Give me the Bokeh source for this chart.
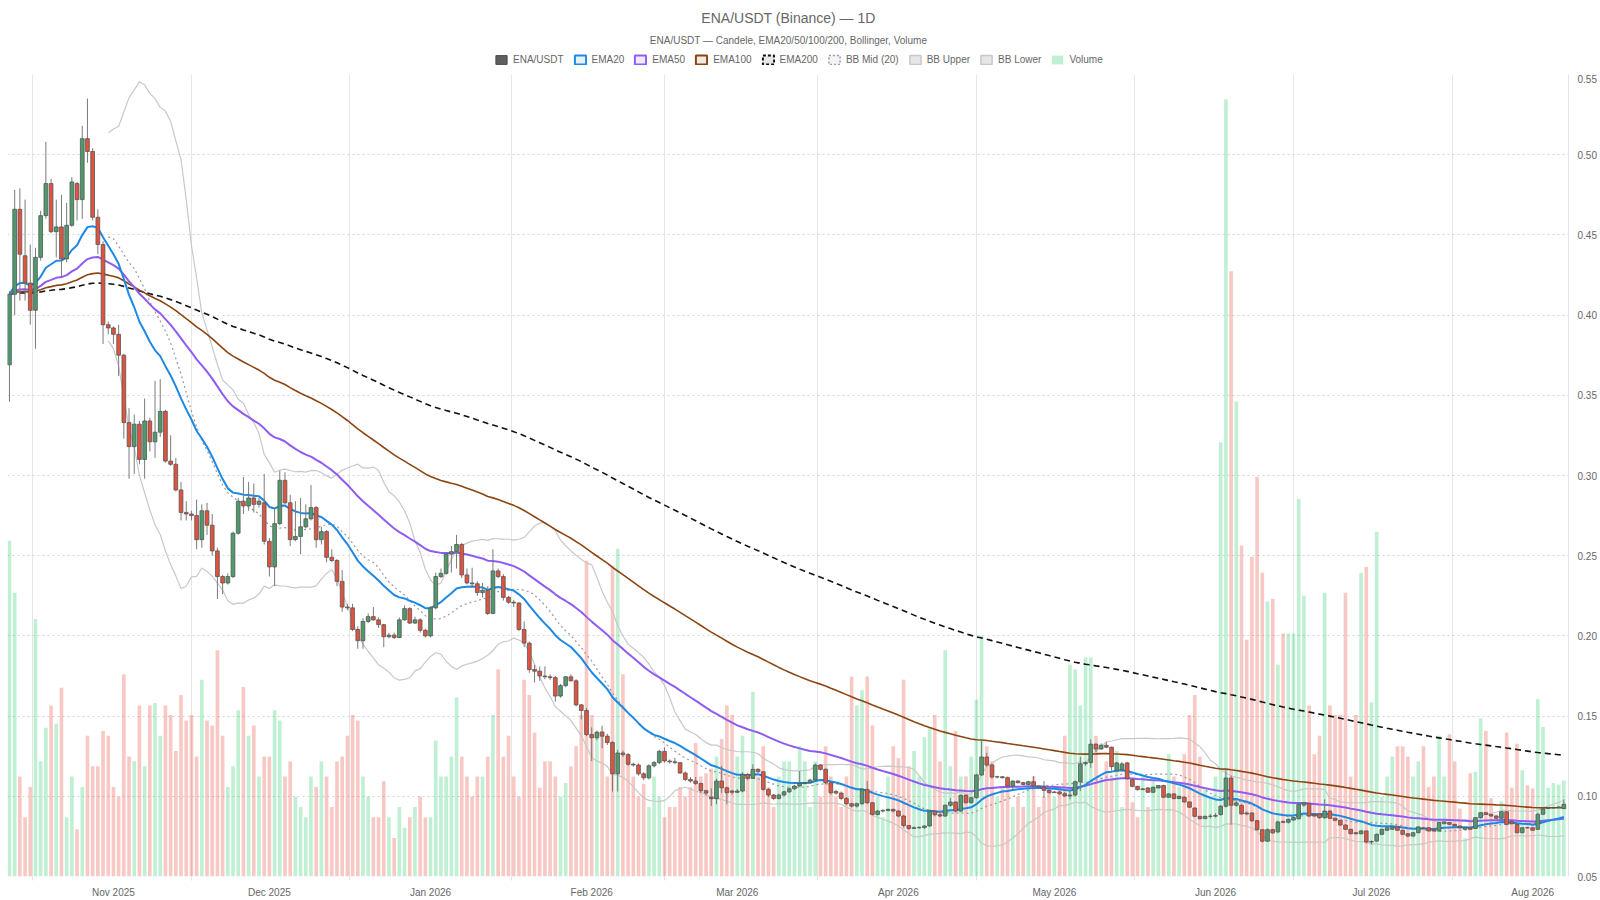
import numpy as np
import pandas as pd
from bokeh.plotting import figure
from bokeh.layouts import column
from bokeh.core.properties import value
from bokeh.models import (ColumnDataSource, Range1d, FixedTicker, Legend, LegendItem,
                          PrintfTickFormatter, DatetimeTickFormatter)
from bokeh.embed import file_html
from bokeh.resources import INLINE

# ---------------- data ----------------
start_date = "2025-10-12"
n_days = 300

opens = [
    .369, .413, .466, .437, .420, .403, .436, .462, .482, .452,
    .455, .435, .456, .482, .472, .510, .502, .461, .444, .394,
    .392, .388, .375, .333, .318, .332, .310, .334, .321, .327,
    .340, .309, .307, .291, .277, .276, .275, .260, .278, .269,
    .253, .237, .233, .237, .264, .284, .281, .286, .282, .283,
    .259, .243, .270, .297, .283, .260, .262, .268, .273, .280,
    .260, .265, .249, .247, .234, .218, .2175, .204, .197, .209,
    .212, .210, .207, .1995, .2005, .199, .210, .217, .208, .210,
    .2035, .200, .2175, .237, .239, .251, .2525, .257, .238, .233,
    .2325, .227, .2285, .214, .2405, .237, .224, .221, .2205, .204,
    .1955, .179, .178, .175, .1745, .174, .1625, .169, .1745, .172,
    .157, .1535, .1385, .1365, .140, .1375, .1335, .114, .127, .126,
    .120, .1195, .114, .1115, .119, .121, .128, .122, .1215, .121,
    .1145, .1105, .1095, .108, .1035, .0995, .0985, .1095, .1053, .1033,
    .1025, .1033, .1136, .1112, .1168, .1153, .1043, .1008, .0987, .1008,
    .1028, .1047, .1064, .1080, .1085, .1101, .1195, .1168, .1085, .1030,
    .1020, .0987, .0954, .0939, .0954, .1043, .0960, .0887, .0908, .0912,
    .0918, .0908, .0877, .0818, .0800, .0804, .0806, .0815, .0908, .0885,
    .0877, .0944, .0964, .0908, .1006, .0960, .0991, .1133, .1245, .1195,
    .1120, .1122, .1116, .1064, .1095, .1085, .1074, .1091, .1064, .1058,
    .1037, .1023, .1027, .1016, .1002, .1008, .1091, .1203, .1210, .1325,
    .1295, .1318, .1306, .1160, .1165, .1208, .1104, .1062, .1042, .1052,
    .1025, .1052, .1067, .0994, .1015, .0986, .0994, .0965, .0927, .0875,
    .0861, .0875, .0876, .0886, .0938, .1114, .0944, .0944, .0896, .0896,
    .0848, .0792, .0720, .0792, .0778, .0842, .0838, .0852, .0860, .0945,
    .0956, .0887, .0890, .0867, .0908, .0863, .0850, .0821, .0794, .0773,
    .0767, .0784, .0715, .0721, .0763, .0788, .0794, .0809, .0788, .0767,
    .0752, .0773, .0802, .0804, .0794, .0784, .0829, .0836, .0825, .0815,
    .0794, .0804, .0800, .0867, .0898, .0887, .0877, .0863, .0904, .0842,
    .0825, .0773, .0804, .0804, .0794, .0888, .0925, .0928, .0930, .0923,
]

highs = [
    .415, .478, .479, .472, .444, .442, .465, .508, .485, .472,
    .475, .470, .486, .483, .518, .535, .504, .466, .446, .396,
    .393, .394, .376, .342, .338, .334, .348, .336, .359, .360,
    .341, .325, .311, .296, .284, .278, .285, .282, .283, .276,
    .255, .238, .239, .265, .286, .299, .296, .295, .286, .301,
    .261, .280, .303, .302, .288, .284, .286, .282, .294, .281,
    .268, .266, .254, .248, .241, .220, .220, .206, .211, .214,
    .218, .2115, .2075, .202, .202, .2115, .219, .218, .212, .211,
    .2045, .2185, .2395, .242, .252, .256, .263, .258, .242, .2425,
    .234, .233, .231, .254, .242, .2385, .225, .2225, .221, .209,
    .1965, .182, .181, .181, .176, .175, .170, .175, .176, .173,
    .1575, .155, .143, .141, .144, .139, .1345, .129, .1285, .127,
    .121, .1205, .115, .120, .122, .129, .1305, .123, .124, .121,
    .1155, .112, .112, .1085, .104, .105, .111, .119, .106, .104,
    .1045, .115, .1145, .120, .1175, .1155, .105, .1015, .1015, .1035,
    .1055, .107, .1157, .109, .111, .1205, .120, .1175, .109, .104,
    .103, .0995, .096, .096, .105, .1095, .0965, .0915, .092, .0925,
    .0925, .0915, .0885, .082, .0812, .0812, .082, .0915, .091, .0905,
    .095, .099, .0968, .1012, .1012, .0998, .114, .1355, .1272, .1203,
    .1128, .1124, .1122, .110, .110, .109, .1098, .1126, .1066, .1095,
    .1042, .1033, .1035, .1028, .1040, .1098, .1245, .1218, .1355, .1330,
    .1330, .1340, .1310, .1215, .1215, .1215, .1110, .1065, .1052, .1058,
    .1060, .1070, .1072, .1020, .1020, .1003, .1000, .0968, .0930, .0878,
    .0880, .0890, .0895, .0945, .1177, .1130, .0975, .0950, .0905, .0900,
    .0852, .0795, .0800, .0798, .0848, .0850, .0862, .0872, .0955, .0965,
    .0960, .0892, .0895, .0981, .0912, .0866, .0852, .0825, .0798, .0778,
    .0790, .0788, .0725, .0768, .0798, .0808, .0815, .0813, .0792, .0770,
    .0778, .0815, .0808, .0808, .0797, .0840, .0845, .0840, .0828, .0818,
    .0808, .0808, .0870, .0902, .0902, .0890, .0880, .0908, .0908, .0846,
    .0828, .0808, .0808, .0808, .0898, .0928, .0933, .0935, .0938, .0981,
]

lows = [
    .346, .400, .409, .409, .394, .379, .434, .460, .451, .436,
    .423, .433, .455, .459, .460, .495, .459, .438, .382, .388,
    .382, .362, .323, .298, .301, .307, .298, .315, .311, .324,
    .308, .306, .290, .272, .272, .272, .254, .255, .263, .250,
    .223, .226, .232, .236, .263, .276, .278, .277, .280, .257,
    .237, .231, .269, .282, .256, .259, .251, .267, .272, .255,
    .257, .246, .246, .231, .215, .216, .203, .192, .192, .208,
    .2095, .205, .193, .1985, .198, .1985, .2095, .2075, .2075, .202,
    .199, .199, .2165, .236, .238, .2395, .242, .236, .232, .230,
    .225, .224, .213, .2135, .236, .222, .220, .218, .203, .193,
    .177, .171, .172, .173, .1725, .159, .1615, .168, .1715, .156,
    .148, .1375, .122, .135, .130, .132, .103, .103, .1245, .119,
    .1185, .113, .110, .1105, .118, .120, .121, .1205, .120, .114,
    .1095, .1085, .107, .102, .1005, .094, .095, .102, .095, .101,
    .102, .1025, .110, .111, .1145, .1035, .0995, .0975, .098, .100,
    .102, .104, .106, .1075, .108, .1095, .116, .1075, .101, .101,
    .0975, .0945, .093, .093, .0945, .095, .088, .088, .090, .0905,
    .090, .087, .0805, .079, .0796, .0798, .0795, .081, .0875, .087,
    .0872, .0935, .090, .0902, .0955, .0955, .0985, .1126, .1185, .111,
    .1112, .111, .1058, .104, .108, .1068, .1068, .1058, .1052, .0991,
    .1016, .1020, .1010, .0995, .0980, .0998, .1033, .1190, .1178, .1275,
    .1290, .1300, .1160, .1150, .1155, .1105, .1055, .1035, .1040, .1020,
    .1020, .1048, .0990, .0990, .0980, .0982, .0960, .0928, .0870, .0855,
    .0858, .0862, .0868, .0880, .0930, .0823, .0935, .0885, .0882, .0840,
    .0785, .0712, .0715, .0765, .0770, .0832, .0830, .0848, .0855, .0935,
    .0870, .0872, .0860, .0860, .0858, .0845, .0815, .0790, .0762, .0762,
    .0762, .0705, .0700, .0715, .0758, .0784, .0790, .0784, .0758, .0745,
    .0748, .0770, .0796, .0780, .0780, .0780, .0826, .0822, .0812, .0800,
    .0790, .0790, .0796, .0862, .0884, .0873, .0860, .0860, .0820, .0825,
    .0770, .0770, .0800, .0785, .0790, .0885, .0920, .0922, .0926, .0920,
]

closes = [
    .413, .466, .438, .420, .403, .436, .462, .482, .452, .455,
    .435, .456, .483, .472, .510, .502, .461, .444, .394, .392,
    .388, .375, .333, .318, .332, .310, .334, .321, .327, .340,
    .309, .307, .291, .277, .276, .275, .260, .278, .269, .253,
    .237, .233, .237, .264, .284, .281, .286, .282, .284, .259,
    .243, .270, .297, .283, .260, .262, .268, .273, .280, .260,
    .265, .249, .247, .234, .218, .2175, .204, .197, .209, .212,
    .210, .207, .1995, .2005, .199, .210, .217, .208, .210, .2035,
    .200, .2175, .237, .239, .251, .2525, .257, .238, .233, .2325,
    .227, .2285, .214, .2405, .237, .224, .221, .2205, .204, .1955,
    .179, .178, .175, .1745, .174, .1625, .169, .1745, .172, .157,
    .1535, .1385, .1365, .140, .1375, .1335, .114, .127, .126, .120,
    .1195, .114, .1115, .119, .121, .128, .122, .1215, .121, .1145,
    .1105, .1095, .108, .1035, .102, .0985, .1095, .1053, .1022, .1025,
    .1033, .1136, .1112, .1168, .1153, .1043, .1008, .0987, .1008, .1028,
    .1047, .1064, .1080, .1085, .1101, .1195, .1168, .1085, .1022, .1020,
    .0987, .0954, .0939, .0954, .1043, .0960, .0887, .0908, .0912, .0918,
    .0908, .0877, .0818, .0800, .0804, .0806, .0815, .0908, .0885, .0877,
    .0944, .0964, .0908, .1006, .0960, .0991, .1133, .1245, .1195, .1120,
    .1122, .1116, .1064, .1095, .1085, .1074, .1091, .1064, .1058, .1037,
    .1023, .1027, .1016, .1002, .1008, .1091, .1203, .1210, .1325, .1295,
    .1318, .1306, .1185, .1208, .1202, .1110, .1062, .1042, .1046, .1025,
    .1056, .1067, .0994, .1015, .0986, .1000, .0965, .0932, .0875, .0861,
    .0875, .0876, .0880, .0938, .1114, .0944, .0959, .0890, .0890, .0848,
    .0792, .0720, .0792, .0772, .0840, .0838, .0856, .0867, .0950, .0960,
    .0877, .0877, .0867, .0908, .0863, .0850, .0821, .0794, .0767, .0767,
    .0784, .0715, .0718, .0763, .0794, .0804, .0809, .0788, .0763, .0752,
    .0773, .0809, .0800, .0784, .0784, .0836, .0840, .0825, .0815, .0804,
    .0804, .0794, .0867, .0898, .0887, .0877, .0863, .0904, .0825, .0829,
    .0773, .0804, .0803, .0788, .0888, .0923, .0928, .0930, .0933, .0950,
]

volumes = [
    42, 35.5, 12.5, 7.4, 11.2, 32.2, 14.4, 18.6, 21.4, 19.1,
    23.6, 7.4, 12.5, 5.9, 11.2, 17.6, 13.8, 13.8, 18.2, 17.6,
    11.2, 10, 25.3, 15, 14.4, 21.4, 13.8, 21.4, 21.7, 17.6,
    21.4, 20.2, 15.7, 22.7, 19.5, 20.2, 15, 24.6, 19.5, 18.9,
    28.3, 17.6, 11.2, 13.8, 20.8, 23.7, 17.6, 18.9, 12.5, 15,
    15, 20.8, 19.5, 12.5, 14.4, 10, 8.7, 7.4, 12.5, 11.2,
    14.4, 12.5, 8.7, 14.4, 15, 17.6, 20.2, 19.5, 12.5, 10,
    7.4, 7.4, 11.9, 7.4, 4.8, 8.7, 6.1, 7.4, 8.7, 10,
    7.4, 7.4, 17, 12.5, 12.5, 15, 22.4, 15, 12.5, 10,
    12.5, 12.5, 15, 20.2, 25.9, 15, 17.6, 12.5, 10, 24.6,
    22.7, 18, 11.1, 14.4, 14.4, 12.5, 10, 11.7, 13.8, 16.3,
    20.2, 39.5, 20.2, 17.6, 18.2, 12.5, 38.9, 41, 25.3, 15,
    12.5, 10, 11.6, 8.7, 12.5, 10, 7.4, 8.7, 8.7, 11.2,
    10, 11.2, 16.7, 12.5, 12.9, 13.5, 15, 17.2, 21.4, 20.2,
    15, 17.6, 12.5, 23.1, 12.5, 16.3, 11.2, 8.7, 12.5, 14.4,
    14.4, 11.2, 16.3, 14.4, 8.7, 14.4, 10, 16.3, 12.5, 10,
    8.7, 12.5, 25, 21.4, 23.3, 25, 18.9, 10, 7.4, 12.5,
    16.3, 14.8, 24.6, 13.8, 15.7, 12.5, 17.4, 18.6, 20.2, 14.4,
    28.3, 13.8, 18.2, 12.5, 12.5, 15, 22.1, 30.1, 16.3, 14.4,
    10, 11.2, 12.5, 8.7, 10, 8.7, 11.2, 12.5, 8.7, 10,
    11.2, 10, 11.2, 17.6, 26.5, 25.9, 21.4, 27.4, 27.4, 17.6,
    12.5, 14.4, 12.5, 15.7, 8.7, 12.5, 9.3, 7.4, 12.5, 8.7,
    11.9, 11.2, 10, 15.3, 12.5, 11.2, 15.3, 20.2, 22.7, 15,
    11.2, 10, 12.5, 54.3, 97.2, 75.7, 59.4, 41.4, 29.6, 40,
    50, 38, 34.4, 34.7, 26.5, 30.4, 30.4, 30.4, 47.2, 35.1,
    21.4, 15.3, 17.6, 35.5, 21.4, 20.2, 20.2, 35.5, 12.5, 20.2,
    38, 38.7, 21.8, 43.1, 10, 12.5, 15, 16.3, 16.3, 15,
    12.5, 14.4, 16.3, 11.2, 12.5, 17.6, 12.5, 17.8, 14.4, 8.5,
    4.8, 12.9, 13.1, 19.8, 18.2, 9.8, 7.8, 9.4, 18, 11.1,
    16.6, 13.3, 11.4, 11, 22.2, 18.7, 11.1, 11.7, 11.5, 12,
]

title_text = "ENA/USDT (Binance) — 1D"
subtitle_text = "ENA/USDT — Candele, EMA20/50/100/200, Bollinger, Volume"
y_ticks = [0.05, 0.10, 0.15, 0.20, 0.25, 0.30, 0.35, 0.40, 0.45, 0.50, 0.55]
month_starts = ["2025-11-01", "2025-12-01", "2026-01-01", "2026-02-01", "2026-03-01",
                "2026-04-01", "2026-05-01", "2026-06-01", "2026-07-01", "2026-08-01"]
grid_months = ["2025-10-01"] + month_starts + ["2026-09-01"]

# ---------------- indicators ----------------
c = np.array(closes, dtype=float)


def ema(values, span):
    a = 2.0 / (span + 1.0)
    out = np.empty_like(values)
    out[0] = values[0]
    for k in range(1, len(values)):
        out[k] = a * values[k] + (1 - a) * out[k - 1]
    return out


ema20, ema50, ema100, ema200 = ema(c, 20), ema(c, 50), ema(c, 100), ema(c, 200)
s = pd.Series(c)
bb_mid = s.rolling(20).mean().to_numpy()
bb_std = s.rolling(20).std(ddof=0).to_numpy()
bb_up = bb_mid + 2 * bb_std
bb_lo = bb_mid - 2 * bb_std

dates = pd.date_range(start_date, periods=n_days, freq="D")
o = np.array(opens)
up = c >= o
DAY = 86400000.0

src = ColumnDataSource(dict(
    x=dates, open=o, high=highs, low=lows, close=c,
    top=np.maximum(o, c), bottom=np.minimum(o, c),
    body=np.where(up, "#4e9a6c", "#e0533e"),
    vcol=np.where(up, "#2ecc71", "#e74c3c"),
    vol=volumes,
))
ind = ColumnDataSource(dict(x=dates, e20=ema20, e50=ema50, e100=ema100, e200=ema200))
bbsrc = ColumnDataSource(dict(x=dates[19:], mid=bb_mid[19:], up=bb_up[19:], lo=bb_lo[19:]))

t0 = pd.Timestamp(start_date).value / 1e6
x_start = t0 - 0.38 * DAY
x_end = t0 + 299.9 * DAY

FONT = "Liberation Sans"
TXT = "#666666"
W = 1600
HEAD_H = 74
FRAME_W, FRAME_H = 1561, 802

# ---------------- header: title, subtitle, legend ----------------
head = figure(width=W, height=HEAD_H, x_range=Range1d(0, W), y_range=Range1d(HEAD_H, 0),
              x_axis_location=None, y_axis_location=None, output_backend="svg",
              toolbar_location=None, title=None, min_border=0)
head.grid.visible = False
head.outline_line_color = None
head.background_fill_color = "white"
head.border_fill_color = "white"

head.text(x=[W / 2], y=[17.3], text=[title_text], text_font=value(FONT),
          text_font_size=value("14px"), text_color=TXT, text_align="center",
          text_baseline="middle")
head.text(x=[W / 2], y=[39.8], text=[subtitle_text], text_font=value(FONT),
          text_font_size=value("10px"), text_color=TXT, text_align="center",
          text_baseline="middle")

off = ColumnDataSource(dict(l=[-50], r=[-40], t=[-50], b=[-40]))


def box(fill, fill_alpha, line, lw, dash="solid"):
    return head.quad(left="l", right="r", top="t", bottom="b", source=off,
                     fill_color=fill, fill_alpha=fill_alpha, line_color=line,
                     line_width=lw, line_dash=dash)


items = [
    ("ENA/USDT", box("#5f5f5f", 1.0, "#4a4a4a", 1)),
    ("EMA20", box("#1e88e5", 0.12, "#1e88e5", 2)),
    ("EMA50", box("#8e5cf2", 0.12, "#8e5cf2", 2)),
    ("EMA100", box("#8b4513", 0.12, "#8b4513", 2)),
    ("EMA200", box("#111111", 0.1, "#111111", 2, "3 2")),
    ("BB Mid (20)", box("#9a9a9a", 0.12, "#9a9a9a", 1.5, "2 2")),
    ("BB Upper", box("#c8c8c8", 0.45, "#c8c8c8", 1.5)),
    ("BB Lower", box("#c8c8c8", 0.45, "#c8c8c8", 1.5)),
    ("Volume", box("#2ecc71", 0.3, None, 0)),
]
legend = Legend(items=[LegendItem(label=lab, renderers=[r]) for lab, r in items],
                orientation="horizontal", location=(487, 9),
                glyph_width=14, glyph_height=11, label_standoff=5, spacing=9,
                label_text_font=FONT, label_text_font_size="10px", label_text_color=TXT,
                label_height=11, border_line_alpha=0, background_fill_alpha=0,
                padding=0, margin=0)
head.add_layout(legend, "center")

# ---------------- main chart ----------------
p = figure(frame_width=FRAME_W, frame_height=FRAME_H, x_axis_type="datetime",
           y_axis_location="right",
           x_range=Range1d(x_start, x_end), y_range=Range1d(0.05, 0.55),
           output_backend="svg", toolbar_location=None, title=None,
           min_border_left=7, min_border_right=31, min_border_top=0, min_border_bottom=24)
p.outline_line_color = None
p.background_fill_color = "white"
p.border_fill_color = "white"
p.extra_y_ranges = {"vol": Range1d(0, 100.3)}

# volume (behind everything)
p.vbar(x="x", width=0.7 * DAY, top="vol", bottom=0, source=src, y_range_name="vol",
       fill_color="vcol", fill_alpha=0.3, line_color=None)

# Bollinger
p.line("x", "up", source=bbsrc, line_color="#c8c8c8", line_width=1.2)
p.line("x", "lo", source=bbsrc, line_color="#c8c8c8", line_width=1.2)
p.line("x", "mid", source=bbsrc, line_color="#9a9a9a", line_width=1.2, line_dash="2 3")

# EMAs
p.line("x", "e200", source=ind, line_color="#111111", line_width=1.6, line_dash="6 4")
p.line("x", "e100", source=ind, line_color="#8b4513", line_width=1.6)
p.line("x", "e50", source=ind, line_color="#8e5cf2", line_width=2)
p.line("x", "e20", source=ind, line_color="#1e88e5", line_width=2)

# candles on top
p.segment(x0="x", y0="low", x1="x", y1="high", source=src, line_color="#7a7a7a", line_width=1)
p.vbar(x="x", width=0.72 * DAY, top="top", bottom="bottom", source=src,
       fill_color="body", line_color="#555555", line_width=0.8)

# axes
p.yaxis.ticker = FixedTicker(ticks=y_ticks)
p.yaxis.formatter = PrintfTickFormatter(format="%.2f")
p.yaxis.axis_line_color = "#e3e3e3"
p.yaxis.major_tick_out = 0
p.yaxis.major_tick_in = 0
p.yaxis.minor_tick_line_color = None
p.yaxis.major_label_standoff = 9
p.yaxis.major_label_text_font = FONT
p.yaxis.major_label_text_font_size = "10px"
p.yaxis.major_label_text_color = TXT

month_ms = [pd.Timestamp(m).value / 1e6 for m in month_starts]
gm = [pd.Timestamp(m).value / 1e6 for m in grid_months]
grid_ms = [(gm[k] + gm[k + 1]) / 2 for k in range(len(gm) - 1)]

p.xaxis.ticker = FixedTicker(ticks=month_ms, minor_ticks=grid_ms)
p.xaxis.formatter = DatetimeTickFormatter(days="%b %Y", months="%b %Y", years="%b %Y")
p.xaxis.axis_line_color = None
p.xaxis.major_tick_out = 0
p.xaxis.major_tick_in = 0
p.xaxis.minor_tick_out = 4
p.xaxis.minor_tick_in = 0
p.xaxis.minor_tick_line_color = "#e3e3e3"
p.xaxis.major_label_standoff = 6
p.xaxis.major_label_text_font = FONT
p.xaxis.major_label_text_font_size = "10px"
p.xaxis.major_label_text_color = TXT

p.xgrid.ticker = FixedTicker(ticks=[x_start] + grid_ms)
p.xgrid.grid_line_color = "#e6e6e6"
p.ygrid.ticker = FixedTicker(ticks=y_ticks)
p.ygrid.grid_line_color = "#d6d6d6"
p.ygrid.grid_line_dash = "2 3"

page = column(head, p, spacing=0)
open("out.html", "w").write(file_html(page, INLINE))
